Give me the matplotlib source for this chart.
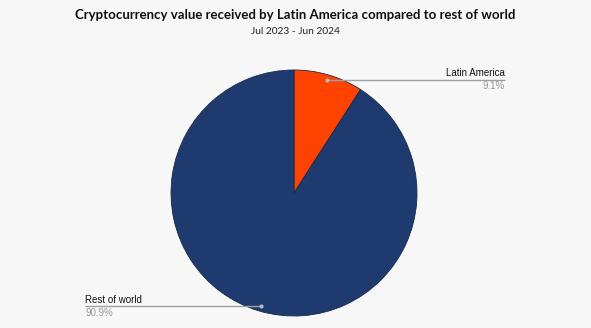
import numpy as np
import matplotlib.pyplot as plt

# data
regions = ['Latin America', 'Rest of world']
shares = [9.1, 90.9]
colors = ['#fe4301', '#1f3a6e']

W, H = 591, 328
fig = plt.figure(figsize=(W / 100, H / 100), dpi=100, facecolor='#f7f7f7')
ax = fig.add_axes([0, 0, 1, 1])
ax.set_facecolor('#f7f7f7')

cx, cy, r = 294, H - 193, 123
wedges, _ = ax.pie(shares, colors=colors, startangle=90, counterclock=False,
                   center=(cx, cy), radius=r,
                   wedgeprops=dict(edgecolor='#1a2a4a', linewidth=0.6))
ax.set_xlim(0, W)
ax.set_ylim(0, H)
ax.set_aspect('equal')
ax.axis('off')

# label positions: (text x, alignment)
label_pos = {'Latin America': (505, 'right'), 'Rest of world': (85, 'left')}
for w, name, val in zip(wedges, regions, shares):
    mid = np.deg2rad((w.theta1 + w.theta2) / 2)
    px = cx + 0.96 * r * np.cos(mid)
    py = cy + 0.96 * r * np.sin(mid)
    tx, ha = label_pos[name]
    ax.plot([px, tx], [py, py], color='#a0a0a0', lw=1.0, solid_capstyle='butt')
    ax.plot(px, py, 'o', ms=2, color='#b8b8b8')
    ax.text(tx, py + 1.5, name, ha=ha, va='bottom', fontsize=7,
            family='Liberation Sans', color='#111111')
    ax.text(tx, py - 1.5, f'{val}%', ha=ha, va='top', fontsize=7,
            family='Liberation Sans', color='#999999')

fig.text(0.5, 1 - 15 / H, 'Cryptocurrency value received by Latin America compared to rest of world',
         ha='center', va='center', fontsize=9.55, fontweight='bold', family='Lato', color='#111111')
fig.text(0.5, 1 - 31 / H, 'Jul 2023 - Jun 2024', ha='center', va='center',
         fontsize=7.3, family='Lato', color='#222222')

plt.savefig('out.png', dpi=100, facecolor=fig.get_facecolor())
